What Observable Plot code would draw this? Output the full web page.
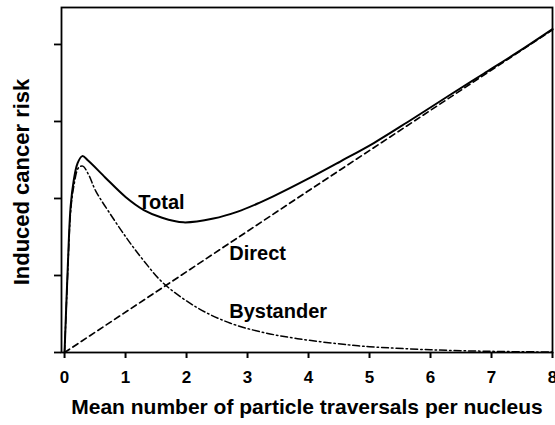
<!DOCTYPE html>
<html><head><meta charset="utf-8">
<script src="https://cdn.jsdelivr.net/npm/d3@7"></script>
<script src="https://cdn.jsdelivr.net/npm/@observablehq/plot@0.6"></script>
<style>body{margin:0;background:#fff}</style>
</head><body><div id="chart"></div>
<script>
// Values (y in arbitrary risk units, 1 unit = one y tick)
const totalX = [0, 0.05, 0.1, 0.15, 0.21, 0.29, 0.39, 0.67, 1.0, 1.3, 1.6, 1.95, 2.44, 2.84, 3.21, 3.43, 3.98, 4.52, 5.07, 5.62, 6.33, 6.87, 7.43, 8];
const totalY = [0, 1.05, 1.9, 2.23, 2.45, 2.55, 2.49, 2.27, 2.02, 1.85, 1.75, 1.69, 1.74, 1.83, 1.95, 2.03, 2.25, 2.48, 2.72, 2.99, 3.35, 3.62, 3.90, 4.2];
const directX = [0, 1.66, 3.98, 8];
const directY = [0, 0.87, 2.09, 4.19];
const bystanderX = [0, 0.05, 0.1, 0.15, 0.23, 0.3, 0.4, 0.51, 0.79, 1.05, 1.3, 1.62, 2.18, 2.72, 3.26, 3.82, 4.64, 5, 6, 7, 8];
const bystanderY = [0, 1.0, 1.83, 2.15, 2.40, 2.42, 2.3, 2.10, 1.75, 1.45, 1.19, 0.90, 0.58, 0.38, 0.26, 0.18, 0.10, 0.075, 0.035, 0.015, 0.006];
const xTicks = [0, 1, 2, 3, 4, 5, 6, 7, 8];
const yTicks = [0, 1, 2, 3, 4];
const labelNames = ["Total", "Direct", "Bystander"];
const labelX = [1.21, 2.70, 2.70];
const labelY = [1.95, 1.29, 0.53];
const xTitle = "Mean number of particle traversals per nucleus";
const yTitle = "Induced cancer risk";

const toRows = (xs, ys) => xs.map((x, i) => ({x, y: ys[i]}));
const total = toRows(totalX, totalY);
const direct = toRows(directX, directY);
const bystander = toRows(bystanderX, bystanderY);
const labels = labelNames.map((name, i) => ({name, x: labelX[i], y: labelY[i]}));

const font = "'Liberation Sans', Arial, Helvetica, sans-serif";

const chart = Plot.plot({
  width: 555,
  height: 425,
  marginLeft: 61,
  marginRight: 3,
  marginTop: 7,
  marginBottom: 73,
  x: {domain: [-0.05, 8]},
  y: {domain: [0, 4.48]},
  style: {fontFamily: font, fontWeight: "bold", color: "black", background: "white"},
  marks: [
    Plot.line(bystander, {x: "x", y: "y", curve: "catmull-rom", stroke: "black", strokeWidth: 1.5, strokeDasharray: "7,3,1.5,3"}),
    Plot.line(direct, {x: "x", y: "y", stroke: "black", strokeWidth: 1.7, strokeDasharray: "6,4"}),
    Plot.line(total, {x: "x", y: "y", curve: "catmull-rom", stroke: "black", strokeWidth: 2}),
    Plot.frame({stroke: "black", strokeWidth: 1.8}),
    Plot.axisX({ticks: xTicks, tickSize: 6, tickPadding: 12, fontSize: 17, fontWeight: "bold", strokeWidth: 2, label: null}),
    Plot.axisY({ticks: yTicks, tickSize: 7, tickFormat: () => "", strokeWidth: 1.8, label: null}),
    Plot.text(labels, {x: "x", y: "y", text: "name", textAnchor: "start", lineAnchor: "middle", fontSize: 20, fontWeight: "bold", fill: "black"}),
    Plot.text([xTitle], {frameAnchor: "bottom", dy: 55, textAnchor: "middle", lineAnchor: "middle", fontSize: 21, fontWeight: "bold", fill: "black"}),
    Plot.text([yTitle], {frameAnchor: "left", dx: -40, dy: 2, rotate: -90, textAnchor: "middle", lineAnchor: "middle", fontSize: 22, fontWeight: "bold", fill: "black"})
  ]
});
document.getElementById("chart").appendChild(chart);
</script>
</body></html>
